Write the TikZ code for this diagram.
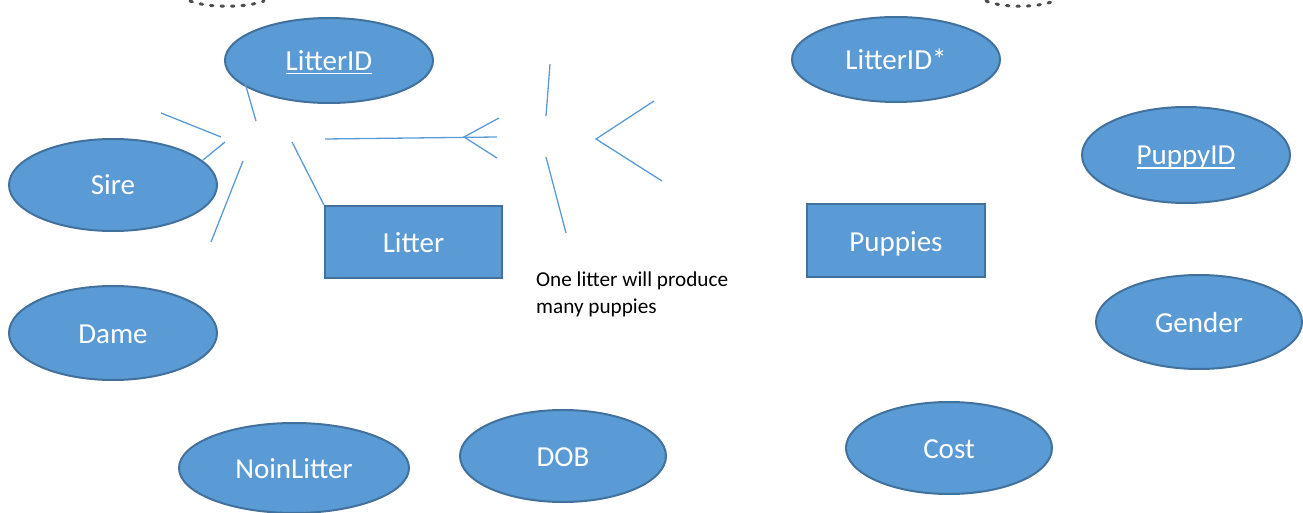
\documentclass[tikz,border=0pt]{standalone}
\usepackage{fontspec}
\setmainfont{Carlito}
\usetikzlibrary{shapes.geometric}
\definecolor{ebfill}{RGB}{91,155,213}
\definecolor{ebdraw}{RGB}{65,113,156}
\definecolor{ebline}{RGB}{91,155,213}
\newcommand\myul[1]{\setbox0\hbox{#1}\rlap{\rule[-4pt]{\wd0}{1.6pt}}\box0}
\tikzset{
  attr/.style={ellipse, fill=ebfill, draw=ebdraw, line width=2pt, inner sep=0pt,
    text=white, font=\fontsize{29}{35}\selectfont, text height=21pt, text depth=1pt},
  entity/.style={rectangle, fill=ebfill, draw=ebdraw, line width=2.2pt, inner sep=0pt,
    text=white, font=\fontsize{29}{35}\selectfont, text height=21pt, text depth=0pt},
  conn/.style={draw=ebline, line width=1.3pt},
  dotarc/.style={draw=black!70, line width=3pt, dash pattern=on 2.5pt off 8pt, line cap=round},
  note/.style={font=\fontsize{21.2}{27}\selectfont, align=left, inner sep=0pt, anchor=north west}
}
\begin{document}
\begin{tikzpicture}[x=1pt,y=-1pt]
\useasboundingbox (0,0) rectangle (1303,513);
% top dotted arcs
\coordinate (da1) at (190,1); \coordinate (da2) at (264,1);
\coordinate (db1) at (986,1); \coordinate (db2) at (1054,1);
\path[dotarc] (da1) .. controls (208,8) and (246,8) .. (da2);
\path[dotarc] (db1) .. controls (1003,8) and (1037,8) .. (db2);
% attributes
\node[attr, minimum width=208pt, minimum height=85pt] (litterid) at (329,60.5) {\myul{LitterID}};
\node[attr, minimum width=208pt, minimum height=85pt] (litteridfk) at (896,59.5) {LitterID*};
\node[attr, minimum width=208pt, minimum height=96pt] (puppyid) at (1186,155) {\myul{PuppyID}};
\node[attr, minimum width=208pt, minimum height=92pt] (sire) at (113,185) {Sire};
\node[attr, minimum width=208pt, minimum height=94pt] (dame) at (113,333) {Dame};
\node[attr, minimum width=206pt, minimum height=94pt] (gender) at (1199,322) {Gender};
\node[attr, minimum width=230pt, minimum height=90pt] (noinlitter) at (294,468) {NoinLitter};
\node[attr, minimum width=206pt, minimum height=92pt] (dob) at (563,456) {DOB};
\node[attr, minimum width=206pt, minimum height=92pt] (cost) at (949,448) {Cost};
% entities
\node[entity, minimum width=177pt, minimum height=72pt] (litter) at (413.5,242) {Litter};
\node[entity, minimum width=178pt, minimum height=73pt] (puppies) at (896,240.5) {Puppies};
% note
\node[note] (notetext) at (536,272) {One litter will produce\\many puppies};
% free line ends
\coordinate (a1) at (245,83);  \coordinate (a2) at (256,121);
\coordinate (b1) at (161,113); \coordinate (b2) at (221,137);
\coordinate (c1) at (225,142); \coordinate (c2) at (203,160);
\coordinate (d1) at (243,161); \coordinate (d2) at (211,242);
\coordinate (e1) at (292,142);
\coordinate (f1) at (325,139); \coordinate (f2) at (497,137);
\coordinate (g1) at (499,118); \coordinate (g2) at (464,137); \coordinate (g3) at (497,158);
\coordinate (h1) at (550,64);  \coordinate (h2) at (546,116);
\coordinate (i1) at (546,157); \coordinate (i2) at (566,233);
\coordinate (j1) at (654,101); \coordinate (j2) at (596,139); \coordinate (j3) at (662,181);
\draw[conn] (a1) -- (a2);
\draw[conn] (b1) -- (b2);
\draw[conn] (c1) -- (c2);
\draw[conn] (d1) -- (d2);
\draw[conn] (e1) -- (litter.north west);
\draw[conn] (f1) -- (f2);
\draw[conn] (g1) -- (g2) -- (g3);
\draw[conn] (h1) -- (h2);
\draw[conn] (i1) -- (i2);
\draw[conn] (j1) -- (j2) -- (j3);
\end{tikzpicture}
\end{document}
